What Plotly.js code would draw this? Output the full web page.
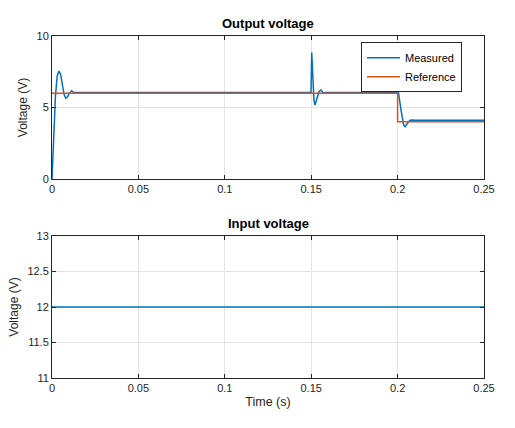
<!DOCTYPE html>
<html>
<head>
<meta charset="utf-8">
<script src="https://cdn.plot.ly/plotly-3.0.1.min.js"></script>
<style>html,body{margin:0;padding:0;background:#fff;}#chart{width:515px;height:428px;}</style>
</head>
<body>
<div id="chart"></div>
<script>
// Output voltage - measured
const measuredTime = [0, 0.001, 0.002, 0.003, 0.004, 0.005, 0.006, 0.007, 0.008, 0.009, 0.010, 0.0114, 0.0125, 0.014,
  0.1499, 0.1503, 0.1510, 0.1516, 0.1522, 0.1530, 0.1545, 0.1557, 0.1570, 0.1580,
  0.2005, 0.2020, 0.2035, 0.2043, 0.2055, 0.2070, 0.2082, 0.2100, 0.25];
const measuredVolt = [0, 3.2, 5.8, 7.2, 7.55, 7.3, 6.6, 5.9, 5.65, 5.75, 6.0, 6.17, 6.05, 6.05,
  6.05, 8.85, 7.0, 5.5, 5.17, 5.5, 6.1, 6.22, 6.0, 6.05,
  6.05, 4.8, 3.8, 3.65, 3.85, 4.1, 4.12, 4.1, 4.1];
// Output voltage - reference
const referenceTime = [0, 0.2, 0.2, 0.25];
const referenceVolt = [6, 6, 4, 4];
// Input voltage
const inputTime = [0, 0.25];
const inputVolt = [12, 12];

const xTicks = [0, 0.05, 0.1, 0.15, 0.2, 0.25];
const xTickText = ['0', '0.05', '0.1', '0.15', '0.2', '0.25'];
const yTicksTop = [0, 5, 10];
const yTicksBottom = [11, 11.5, 12, 12.5, 13];

const blue = '#0072BD', orange = '#D95319';
const font = {family: 'Liberation Sans, Arial, sans-serif', size: 11, color: '#262626'};

const traces = [
  {x: measuredTime, y: measuredVolt, type: 'scatter', mode: 'lines', name: 'Measured',
   line: {color: blue, width: 1.5}, xaxis: 'x', yaxis: 'y'},
  {x: referenceTime, y: referenceVolt, type: 'scatter', mode: 'lines', name: 'Reference',
   line: {color: orange, width: 1.5}, xaxis: 'x', yaxis: 'y'},
  {x: inputTime, y: inputVolt, type: 'scatter', mode: 'lines', showlegend: false,
   line: {color: blue, width: 1.5}, xaxis: 'x2', yaxis: 'y2'}
];

const axBase = {
  showline: true, mirror: 'ticks', linecolor: '#262626', linewidth: 1,
  ticks: 'inside', ticklen: 4, tickcolor: '#262626',
  showgrid: true, gridcolor: '#e3e3e3', zeroline: false,
  tickfont: {family: font.family, size: 11, color: '#262626'}
};

const layout = {
  width: 515, height: 428,
  margin: {l: 52, r: 31, t: 36, b: 50},
  paper_bgcolor: '#fff', plot_bgcolor: '#fff',
  font: font,
  showlegend: true,
  legend: {x: 0.949, y: 0.982, xanchor: 'right', yanchor: 'top',
    bordercolor: '#262626', borderwidth: 1, bgcolor: '#fff',
    font: {family: font.family, size: 11, color: '#000'},
    itemwidth: 33, tracegroupgap: 0},
  xaxis: Object.assign({}, axBase, {domain: [0, 1], range: [0, 0.25], anchor: 'y',
    tickvals: xTicks, ticktext: xTickText}),
  yaxis: Object.assign({}, axBase, {domain: [0.582, 1], range: [0, 10], anchor: 'x',
    tickvals: yTicksTop, title: {text: 'Voltage (V)', font: {family: font.family, size: 12, color: '#262626'}, standoff: 6}}),
  xaxis2: Object.assign({}, axBase, {domain: [0, 1], range: [0, 0.25], anchor: 'y2',
    tickvals: xTicks, ticktext: xTickText,
    title: {text: 'Time (s)', font: {family: font.family, size: 12.5, color: '#262626'}, standoff: 4}}),
  yaxis2: Object.assign({}, axBase, {domain: [0, 0.415], range: [11, 13], anchor: 'x2',
    tickvals: yTicksBottom, ticktext: ['11', '11.5', '12', '12.5', '13'],
    title: {text: 'Voltage (V)', font: {family: font.family, size: 12, color: '#262626'}, standoff: 6}}),
  annotations: [
    {text: '<b>Output voltage</b>', xref: 'paper', yref: 'paper', x: 0.5, y: 1, yshift: 3,
     xanchor: 'center', yanchor: 'bottom', showarrow: false,
     font: {family: font.family, size: 13, color: '#000'}},
    {text: '<b>Input voltage</b>', xref: 'paper', yref: 'paper', x: 0.5, y: 0.415, yshift: 3,
     xanchor: 'center', yanchor: 'bottom', showarrow: false,
     font: {family: font.family, size: 13, color: '#000'}}
  ]
};

Plotly.newPlot('chart', traces, layout, {displayModeBar: false, staticPlot: true});
</script>
</body>
</html>
